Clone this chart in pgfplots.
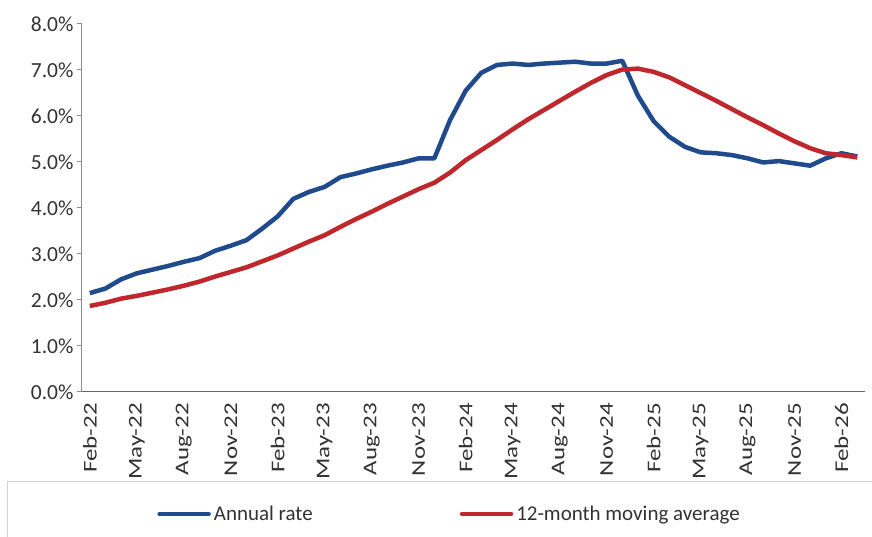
\documentclass[border=0pt]{standalone}
\usepackage{pgfplots}
\pgfplotsset{compat=1.18}
\usepackage{pgfplotstable}
\usepackage{fontspec}
\setmainfont{Carlito}
\newfontfamily\xlab[FakeStretch=1.28]{Carlito}
\definecolor{annblue}{RGB}{31,74,140}
\definecolor{avgred}{RGB}{192,39,45}
\definecolor{txt}{RGB}{50,50,50}

\pgfplotstableread{
i v
0 2.15
1 2.25
2 2.45
3 2.58
4 2.66
5 2.74
6 2.83
7 2.91
8 3.07
9 3.18
10 3.30
11 3.55
12 3.82
13 4.20
14 4.35
15 4.46
16 4.67
17 4.75
18 4.84
19 4.92
20 4.99
21 5.08
22 5.08
23 5.91
24 6.55
25 6.94
26 7.11
27 7.14
28 7.11
29 7.14
30 7.16
31 7.18
32 7.14
33 7.14
34 7.20
35 6.44
36 5.89
37 5.55
38 5.33
39 5.21
40 5.19
41 5.15
42 5.08
43 4.99
44 5.02
45 4.97
46 4.92
47 5.08
48 5.19
49 5.12
}\annual

\pgfplotstableread{
i v
0 1.87
1 1.94
2 2.03
3 2.09
4 2.16
5 2.23
6 2.31
7 2.40
8 2.51
9 2.61
10 2.71
11 2.84
12 2.97
13 3.12
14 3.27
15 3.41
16 3.59
17 3.76
18 3.92
19 4.09
20 4.25
21 4.41
22 4.55
23 4.77
24 5.04
25 5.26
26 5.48
27 5.71
28 5.93
29 6.13
30 6.33
31 6.53
32 6.72
33 6.89
34 7.01
35 7.03
36 6.96
37 6.84
38 6.67
39 6.50
40 6.33
41 6.15
42 5.97
43 5.80
44 5.62
45 5.45
46 5.30
47 5.19
48 5.15
49 5.10
}\movavg

\begin{document}
\begin{tikzpicture}
\begin{axis}[
  scale only axis,
  width=783pt, height=368pt,
  xmin=-0.5, xmax=49.5,
  ymin=0, ymax=8,
  axis x line=bottom, axis y line=left,
  x axis line style={-, black!60, line width=1pt},
  y axis line style={-, black!45, line width=1pt},
  ytick={0,1,...,8},
  yticklabel={\pgfmathprintnumber[fixed,fixed zerofill,precision=1]{\tick}\%},
  /pgf/number format/assume math mode=true,
  yticklabel style={font=\fontsize{21.5}{24}\selectfont, text=txt},
  ytick style={black!45, line width=1pt},
  tick align=outside,
  major tick length=5pt,
  xtick={0,3,...,48},
  xticklabels={Feb-22,May-22,Aug-22,Nov-22,Feb-23,May-23,Aug-23,Nov-23,Feb-24,May-24,Aug-24,Nov-24,Feb-25,May-25,Aug-25,Nov-25,Feb-26},
  x tick style={draw=none},
  minor xtick={-0.5,2.5,...,47.5},
  minor tick length=6pt,
  minor x tick style={black!60, line width=1pt},
  xticklabel style={font=\xlab\fontsize{19.5}{22}\selectfont, text=txt, rotate=90, anchor=east, inner sep=0pt, xshift=-6pt},
  legend style={at={(axis description cs:0.096,-0.3315)}, anchor=west, draw=none, fill=none,
    legend columns=2, font=\fontsize{21}{24}\selectfont, text=txt, inner sep=0pt,
    /tikz/every even column/.append style={column sep=147pt},
    /tikz/every odd column/.append style={column sep=3pt},
    nodes={inner sep=0pt, anchor=west}},
  legend image code/.code={\draw[#1, line width=4.5pt, line cap=round] (2pt,0pt) -- (51pt,0pt);},
]
\addplot[annblue, line width=4.5pt, line join=round, mark=none] table[x=i, y=v] {\annual};
\addlegendentry{Annual rate}
\addplot[avgred, line width=4.5pt, line join=round, mark=none] table[x=i, y=v] {\movavg};
\addlegendentry{12-month moving average}
\end{axis}
\draw[black!18, line width=1pt] (-74pt,-90pt) rectangle (810pt,-170pt);
\pgfresetboundingbox
\path (-82pt,-145pt) rectangle (790pt,392pt);
\end{tikzpicture}
\end{document}
